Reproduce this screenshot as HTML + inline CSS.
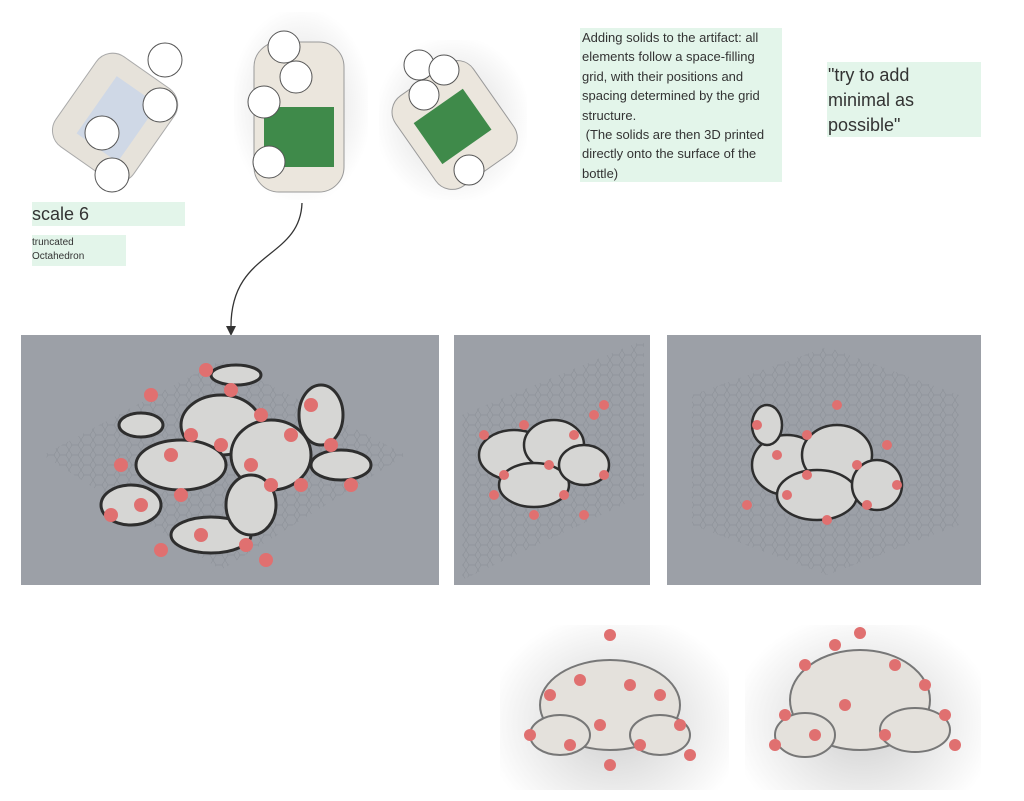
<!DOCTYPE html>
<html><head><meta charset="utf-8"><style>
body{margin:0;width:1024px;height:801px;background:#fff;position:relative;overflow:hidden;font-family:"Liberation Sans",sans-serif;color:#333}
.a{position:absolute}
.g{background:#e3f5ea}
.p{background:#9ca0a7}
</style></head><body>
<svg width="0" height="0" style="position:absolute">
<defs>
<pattern id="hx" width="12" height="10" patternUnits="userSpaceOnUse"><path d="M3 0h6l3 5-3 5H3L0 5z" fill="none" stroke="#878b92" stroke-width=".5"/></pattern>
</defs></svg>

<!-- top images -->
<div class="a" style="left:40px;top:35px;width:160px;height:160px">
<svg width="160" height="160"><g transform="rotate(35 80 80)"><rect x="30" y="30" width="95" height="110" rx="20" fill="#e6e2da" stroke="#aaa"/><rect x="55" y="50" width="50" height="70" fill="#cfd8e6"/></g>
<g fill="#fff" stroke="#555"><circle cx="125" cy="25" r="17"/><circle cx="120" cy="70" r="17"/><circle cx="62" cy="98" r="17"/><circle cx="72" cy="140" r="17"/></g></svg></div>
<div class="a" style="left:234px;top:12px;width:134px;height:188px;background:radial-gradient(ellipse at center,#d8d8d8,#fff 75%)">
<svg width="134" height="188"><rect x="20" y="30" width="90" height="150" rx="25" fill="#ebe6dd" stroke="#999"/><rect x="30" y="95" width="70" height="60" fill="#3f8a4a"/>
<g fill="#fff" stroke="#555"><circle cx="50" cy="35" r="16"/><circle cx="62" cy="65" r="16"/><circle cx="30" cy="90" r="16"/><circle cx="35" cy="150" r="16"/></g></svg></div>
<div class="a" style="left:379px;top:40px;width:148px;height:160px;background:radial-gradient(ellipse at center,#d8d8d8,#fff 75%)">
<svg width="148" height="160"><g transform="rotate(-35 74 80)"><rect x="25" y="30" width="95" height="110" rx="20" fill="#ebe6dd" stroke="#999"/><rect x="40" y="60" width="60" height="50" fill="#3f8a4a"/></g>
<g fill="#fff" stroke="#555"><circle cx="40" cy="25" r="15"/><circle cx="65" cy="30" r="15"/><circle cx="45" cy="55" r="15"/><circle cx="90" cy="130" r="15"/></g></svg></div>

<div class="a g" style="left:32px;top:202px;width:153px;height:24px;font-size:18px;line-height:24px">scale 6</div>
<div class="a g" style="left:32px;top:235px;width:94px;height:30px;font-size:10px;line-height:14px;padding-top:1px">truncated<br>Octahedron</div>

<div class="a g" style="left:580px;top:28px;width:202px;height:154px;font-size:13px;line-height:19.4px;padding-left:2px;box-sizing:border-box">Adding solids to the artifact: all elements follow a space-filling grid, with their positions and spacing determined by the grid structure.<br>&nbsp;(The solids are then 3D printed directly onto the surface of the bottle)</div>
<div class="a g" style="left:827px;top:62px;width:154px;height:75px;font-size:18px;line-height:25px;box-sizing:border-box;padding:1px 40px 0 1px">"try to add minimal as possible"</div>

<svg class="a" style="left:0;top:0" width="1024" height="801"><path d="M302 203 C300 260 230 250 231 328" fill="none" stroke="#333" stroke-width="1.3"/><path d="M226 326 L231 336 L236 326z" fill="#333"/></svg>

<!-- gray panels -->
<div class="a p" style="left:21px;top:335px;width:418px;height:250px">
<svg width="418" height="250"><path d="M22 120 L200 25 L385 120 L200 235z" fill="url(#hx)"/>
<g fill="#d6d6d4" stroke="#2e2e2e" stroke-width="3"><ellipse cx="200" cy="90" rx="40" ry="30"/><ellipse cx="160" cy="130" rx="45" ry="25"/><ellipse cx="250" cy="120" rx="40" ry="35"/><ellipse cx="120" cy="90" rx="22" ry="12"/><ellipse cx="300" cy="80" rx="22" ry="30"/><ellipse cx="190" cy="200" rx="40" ry="18"/><ellipse cx="230" cy="170" rx="25" ry="30"/><ellipse cx="320" cy="130" rx="30" ry="15"/><ellipse cx="110" cy="170" rx="30" ry="20"/><ellipse cx="215" cy="40" rx="25" ry="10"/></g>
<g fill="#e07070"><circle cx="130" cy="60" r="7"/><circle cx="185" cy="35" r="7"/><circle cx="210" cy="55" r="7"/><circle cx="170" cy="100" r="7"/><circle cx="150" cy="120" r="7"/><circle cx="200" cy="110" r="7"/><circle cx="240" cy="80" r="7"/><circle cx="250" cy="150" r="7"/><circle cx="290" cy="70" r="7"/><circle cx="310" cy="110" r="7"/><circle cx="100" cy="130" r="7"/><circle cx="120" cy="170" r="7"/><circle cx="160" cy="160" r="7"/><circle cx="180" cy="200" r="7"/><circle cx="225" cy="210" r="7"/><circle cx="245" cy="225" r="7"/><circle cx="270" cy="100" r="7"/><circle cx="230" cy="130" r="7"/><circle cx="140" cy="215" r="7"/><circle cx="280" cy="150" r="7"/><circle cx="330" cy="150" r="7"/><circle cx="90" cy="180" r="7"/></g></svg></div>
<div class="a p" style="left:454px;top:335px;width:196px;height:250px">
<svg width="196" height="250"><path d="M8 80 L190 5 L190 160 L8 245z" fill="url(#hx)"/>
<g fill="#d6d6d4" stroke="#2e2e2e" stroke-width="2.5"><ellipse cx="60" cy="120" rx="35" ry="25"/><ellipse cx="100" cy="110" rx="30" ry="25"/><ellipse cx="80" cy="150" rx="35" ry="22"/><ellipse cx="130" cy="130" rx="25" ry="20"/></g>
<g fill="#e07070"><circle cx="30" cy="100" r="5"/><circle cx="50" cy="140" r="5"/><circle cx="70" cy="90" r="5"/><circle cx="95" cy="130" r="5"/><circle cx="120" cy="100" r="5"/><circle cx="140" cy="80" r="5"/><circle cx="150" cy="70" r="5"/><circle cx="80" cy="180" r="5"/><circle cx="110" cy="160" r="5"/><circle cx="150" cy="140" r="5"/><circle cx="40" cy="160" r="5"/><circle cx="130" cy="180" r="5"/></g></svg></div>
<div class="a p" style="left:667px;top:335px;width:314px;height:250px">
<svg width="314" height="250"><path d="M25 60 L160 12 L292 60 L292 190 L160 240 L25 190z" fill="url(#hx)"/>
<g fill="#d6d6d4" stroke="#2e2e2e" stroke-width="2.5"><ellipse cx="120" cy="130" rx="35" ry="30"/><ellipse cx="170" cy="120" rx="35" ry="30"/><ellipse cx="150" cy="160" rx="40" ry="25"/><ellipse cx="210" cy="150" rx="25" ry="25"/><ellipse cx="100" cy="90" rx="15" ry="20"/></g>
<g fill="#e07070"><circle cx="90" cy="90" r="5"/><circle cx="110" cy="120" r="5"/><circle cx="140" cy="100" r="5"/><circle cx="170" cy="70" r="5"/><circle cx="190" cy="130" r="5"/><circle cx="220" cy="110" r="5"/><circle cx="80" cy="170" r="5"/><circle cx="120" cy="160" r="5"/><circle cx="160" cy="185" r="5"/><circle cx="200" cy="170" r="5"/><circle cx="230" cy="150" r="5"/><circle cx="140" cy="140" r="5"/></g></svg></div>

<!-- bottom renders -->
<div class="a" style="left:500px;top:625px;width:229px;height:165px;background:radial-gradient(ellipse at 50% 60%,#cfcfcf,#fff 80%)">
<svg width="229" height="165"><g fill="#e4e1dc" stroke="#777" stroke-width="2"><ellipse cx="110" cy="80" rx="70" ry="45"/><ellipse cx="60" cy="110" rx="30" ry="20"/><ellipse cx="160" cy="110" rx="30" ry="20"/></g>
<g fill="#e07070"><circle cx="50" cy="70" r="6"/><circle cx="80" cy="55" r="6"/><circle cx="110" cy="10" r="6"/><circle cx="130" cy="60" r="6"/><circle cx="160" cy="70" r="6"/><circle cx="180" cy="100" r="6"/><circle cx="100" cy="100" r="6"/><circle cx="70" cy="120" r="6"/><circle cx="140" cy="120" r="6"/><circle cx="30" cy="110" r="6"/><circle cx="190" cy="130" r="6"/><circle cx="110" cy="140" r="6"/></g></svg></div>
<div class="a" style="left:745px;top:625px;width:236px;height:165px;background:radial-gradient(ellipse at 50% 60%,#cfcfcf,#fff 80%)">
<svg width="236" height="165"><g fill="#e4e1dc" stroke="#777" stroke-width="2"><ellipse cx="115" cy="75" rx="70" ry="50"/><ellipse cx="60" cy="110" rx="30" ry="22"/><ellipse cx="170" cy="105" rx="35" ry="22"/></g>
<g fill="#e07070"><circle cx="60" cy="40" r="6"/><circle cx="90" cy="20" r="6"/><circle cx="115" cy="8" r="6"/><circle cx="150" cy="40" r="6"/><circle cx="180" cy="60" r="6"/><circle cx="200" cy="90" r="6"/><circle cx="100" cy="80" r="6"/><circle cx="70" cy="110" r="6"/><circle cx="140" cy="110" r="6"/><circle cx="40" cy="90" r="6"/><circle cx="210" cy="120" r="6"/><circle cx="30" cy="120" r="6"/></g></svg></div>
</body></html>
